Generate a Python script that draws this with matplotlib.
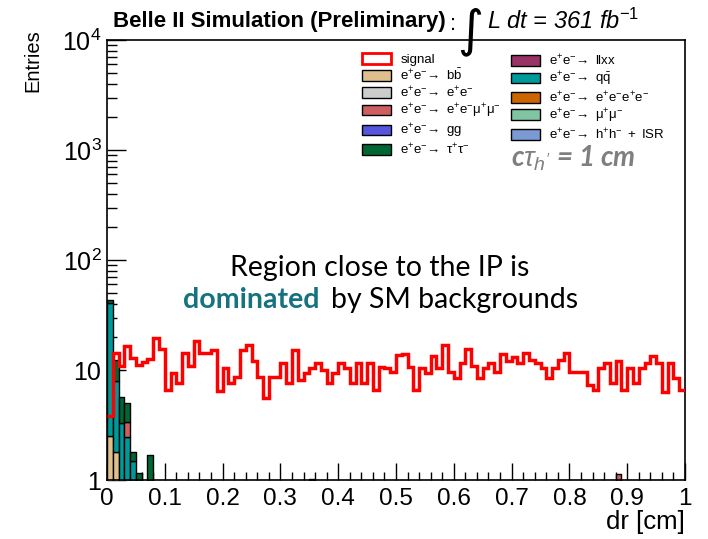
import numpy as np
import matplotlib
matplotlib.use("Agg")
import matplotlib.pyplot as plt
from matplotlib.patches import Patch
from matplotlib.ticker import FixedLocator, NullFormatter, MultipleLocator

plt.rcParams["font.family"] = ["Liberation Sans", "DejaVu Sans"]
plt.rcParams["mathtext.fontset"] = "custom"
plt.rcParams["mathtext.rm"] = "Liberation Sans"
plt.rcParams["mathtext.it"] = "Liberation Sans:italic"
plt.rcParams["mathtext.bf"] = "Liberation Sans:bold"

# 100 bins of dr in [0, 1] cm
edges = np.linspace(0, 1, 101)

signal = [3.8, 14.4, 10.9, 16.6, 12.8, 11.1, 11.7, 12.5, 19.5, 15.4,
          6.6, 9.3, 7.6, 14.2, 10.9, 18.2, 14.2, 14.2, 15.3, 6.4,
          10.4, 7.6, 8.7, 15.3, 16.9, 12.2, 8.7, 5.6, 8.7, 8.7,
          11.5, 7.6, 15.3, 8.1, 9.3, 10.4, 11.5, 9.9, 7.6, 9.3,
          11.5, 10.4, 7.6, 11.5, 7.6, 11.5, 6.6, 10.6, 10.4, 9.5,
          13.6, 13.9, 10.6, 6.6, 10.4, 9.3, 13.4, 10.4, 16.9, 9.5,
          8.4, 11.5, 15.4, 10.8, 8.4, 10.4, 11.5, 9.5, 13.9, 12.0,
          13.2, 11.5, 14.2, 12.4, 11.5, 10.4, 8.4, 10.4, 12.4, 14.2,
          9.5, 9.5, 9.5, 7.3, 6.6, 10.4, 11.5, 7.6, 12.2, 6.6,
          10.4, 7.6, 10.4, 11.5, 13.4, 11.5, 6.3, 11.5, 8.4, 6.6]

# backgrounds, only the first bins are filled (rest zero)
bb_head = [2.5, 1.8]
qq_head = [38.3, 6.2, 3.3, 2.45, 1.5]
eemumu_head = [0, 0, 0, 0.9]
tautau_head = [2.8, 4.4, 2.4, 1.65, 0.3, 1.15, 0, 1.7]
# isolated background entries further out: (bin index, value)
tautau_far = [(35, 1.03)]
eemumu_far = [(88, 1.13)]


def full(head, far=()):
    arr = np.zeros(100)
    arr[:len(head)] = head
    for i, v in far:
        arr[i] = v
    return arr


bb = full(bb_head)
qq = full(qq_head)
eemumu = full(eemumu_head, eemumu_far)
tautau = full(tautau_head, tautau_far)

col = {
    "bb": "#dfbf8c", "ee": "#cccccc", "eemumu": "#cd5f60", "gg": "#5555dd",
    "tautau": "#006633", "llxx": "#993366", "qq": "#009999",
    "eeee": "#cc6600", "mumu": "#80c4a2", "hh": "#7b9ad4",
}

fig = plt.figure(figsize=(7.08, 5.39), dpi=100)
ax = fig.add_axes([107 / 708, 1 - 480 / 539, 578 / 708, 440 / 539])

# stacked backgrounds
stack = [(bb, col["bb"]), (qq, col["qq"]), (eemumu, col["eemumu"]), (tautau, col["tautau"])]
bottom = np.zeros(100)
for vals, c in stack:
    top = bottom + vals
    for i in np.nonzero(vals)[0]:
        ax.fill_between([edges[i], edges[i + 1]], max(bottom[i], 0.5), top[i],
                        facecolor=c, edgecolor="black", lw=1.0, zorder=2)
    bottom = top

ax.stairs(signal, edges, baseline=None, color="red", lw=2.5, zorder=3)

ax.set_yscale("log")
ax.set_xlim(0, 1)
ax.set_ylim(1, 1e4)

ax.set_xticks(np.arange(0, 1.01, 0.1))
ax.set_xticklabels(["0", "0.1", "0.2", "0.3", "0.4", "0.5", "0.6", "0.7", "0.8", "0.9", "1"])
ax.xaxis.set_minor_locator(MultipleLocator(0.02))
ax.set_yticks([1, 10, 100, 1000, 10000])
ax.set_yticklabels(["1", "10", r"$10^{2}$", r"$10^{3}$", r"$10^{4}$"])
ax.yaxis.set_minor_locator(FixedLocator([m * 10 ** d for d in range(4) for m in range(2, 10)]))
ax.yaxis.set_minor_formatter(NullFormatter())
ax.tick_params(axis="both", which="both", direction="in", top=False, right=False)
ax.tick_params(axis="x", which="major", length=12, width=1, labelsize=17.5, pad=6)
ax.tick_params(axis="x", which="minor", length=6, width=1)
ax.tick_params(axis="y", which="major", length=14, width=1, labelsize=18, pad=4)
ax.tick_params(axis="y", which="minor", length=7, width=1)
for s in ax.spines.values():
    s.set_linewidth(1.2)

fig.text(685 / 708, 1 - 522 / 539, "dr [cm]", ha="right", va="center", fontsize=18.5)
fig.text(33 / 708, 1 - 29 / 539, "Entries", ha="center", va="top", rotation=90, fontsize=14.5)

# header
fig.text(113 / 708, 1 - 21 / 539, "Belle II Simulation (Preliminary)", ha="left", va="center",
         fontsize=16, fontweight="bold")
fig.text(450 / 708, 1 - 24 / 539, ":", ha="left", va="center", fontsize=16)
fig.text(457 / 708, 1 - 32 / 539, "\u222b", ha="left", va="center", fontsize=36,
         family="DejaVu Sans")
fig.text(487 / 708, 1 - 21 / 539, "L dt = 361 fb$^{-1}$", ha="left", va="center",
         fontsize=17, style="italic")

# legend, two columns
labels1 = ["signal",
           r"$\mathrm{e^{+}e^{-}\!\rightarrow\ b\bar{b}}$",
           r"$\mathrm{e^{+}e^{-}\!\rightarrow\ e^{+}e^{-}}$",
           r"$\mathrm{e^{+}e^{-}\!\rightarrow\ e^{+}e^{-}\mu^{+}\mu^{-}}$",
           r"$\mathrm{e^{+}e^{-}\!\rightarrow\ gg}$",
           r"$\mathrm{e^{+}e^{-}\!\rightarrow\ \tau^{+}\tau^{-}}$"]
colors1 = [None, col["bb"], col["ee"], col["eemumu"], col["gg"], col["tautau"]]
labels2 = [r"$\mathrm{e^{+}e^{-}\!\rightarrow\ llxx}$",
           r"$\mathrm{e^{+}e^{-}\!\rightarrow\ q\bar{q}}$",
           r"$\mathrm{e^{+}e^{-}\!\rightarrow\ e^{+}e^{-}e^{+}e^{-}}$",
           r"$\mathrm{e^{+}e^{-}\!\rightarrow\ \mu^{+}\mu^{-}}$",
           r"$\mathrm{e^{+}e^{-}\!\rightarrow\ h^{+}h^{-}\ +\ ISR}$"]
colors2 = [col["llxx"], col["qq"], col["eeee"], col["mumu"], col["hh"]]

h1 = []
for c in colors1:
    if c is None:
        h1.append(Patch(facecolor="white", edgecolor="red", lw=2.0))
    else:
        h1.append(Patch(facecolor=c, edgecolor="black", lw=1.0))
h2 = [Patch(facecolor=c, edgecolor="black", lw=1.0) for c in colors2]

kw = dict(frameon=False, fontsize=9.5, handlelength=2.2, handleheight=0.85,
          handletextpad=0.7, labelspacing=0.14, borderpad=0, borderaxespad=0,
          loc="upper left")
leg1 = fig.legend(h1, labels1, bbox_to_anchor=(362 / 708, 1 - 53 / 539), **kw)
leg2 = fig.legend(h2, labels2, bbox_to_anchor=(511 / 708, 1 - 53 / 539), **kw)

fig.text(511 / 708, 1 - 158 / 539, r"c$\tau_{h'}$ = 1 cm", ha="left", va="center",
         fontsize=20, color="#7f7f7f", family="Lato", fontweight="bold", style="italic")

fig.text(380 / 708, 1 - 268 / 539, "Region close to the IP is", ha="center", va="center",
         fontsize=20.5, family="Lato")
fig.text(183 / 708, 1 - 300 / 539, "dominated", ha="left", va="center",
         fontsize=20.5, family="Lato", fontweight="bold", color="#15737f")
fig.text(578 / 708, 1 - 300 / 539, "by SM backgrounds", ha="right", va="center",
         fontsize=20.5, family="Lato")

fig.savefig("out.png", dpi=100)
